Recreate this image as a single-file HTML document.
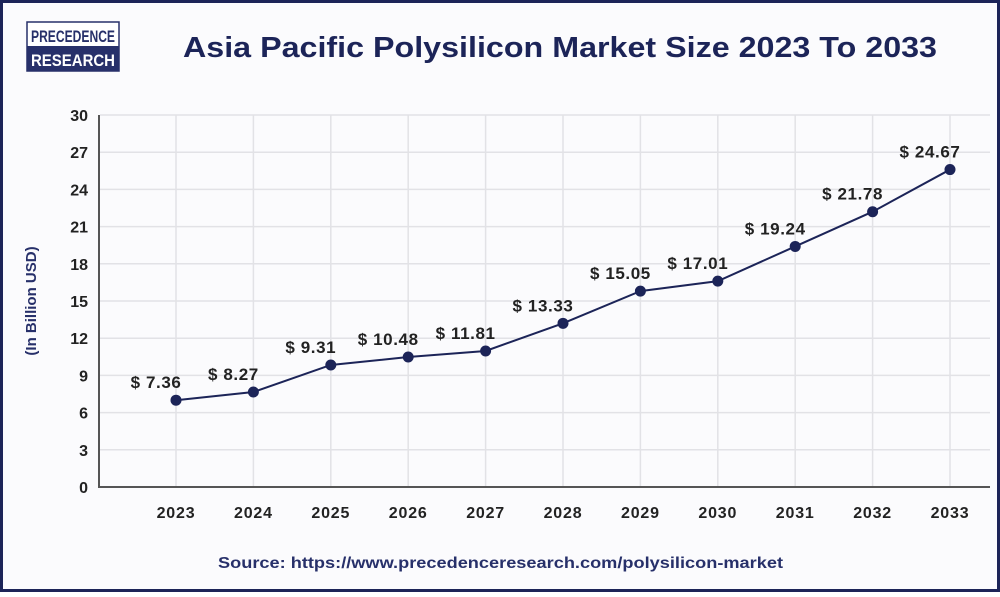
<!DOCTYPE html>
<html><head><meta charset="utf-8"><style>
html,body{margin:0;padding:0;}
body{width:1000px;height:592px;overflow:hidden;background:#fff;font-family:"Liberation Sans",sans-serif;}
</style></head><body>
<svg width="1000" height="592" viewBox="0 0 1000 592">
<rect x="1.5" y="1.5" width="997" height="589" fill="#fbfbfd" stroke="#1c2458" stroke-width="3"/>
<g>
<rect x="27" y="22" width="92" height="49" fill="#fff" stroke="#27306a" stroke-width="1.5"/>
<rect x="27" y="46" width="92" height="25" fill="#27306a"/>
<text x="73" y="42" text-anchor="middle" font-size="17" font-weight="bold" fill="#27306a" textLength="84" lengthAdjust="spacingAndGlyphs">PRECEDENCE</text>
<text x="73" y="66" text-anchor="middle" font-size="17" font-weight="bold" fill="#fff" textLength="84" lengthAdjust="spacingAndGlyphs">RESEARCH</text>
</g>
<text x="183" y="57" font-size="29" font-weight="bold" fill="#1c2458" textLength="754" lengthAdjust="spacingAndGlyphs">Asia Pacific Polysilicon Market Size 2023 To 2033</text>
<text transform="translate(36,301) rotate(-90)" text-anchor="middle" font-size="15" font-weight="bold" fill="#27306a">(In Billion USD)</text>
<g id="grid"></g><g id="marks"></g>
<text x="218" y="568" font-size="16" font-weight="bold" fill="#27306a" textLength="565" lengthAdjust="spacingAndGlyphs">Source: https://www.precedenceresearch.com/polysilicon-market</text>
</svg>
<script>
const years=["2023","2024","2025","2026","2027","2028","2029","2030","2031","2032","2033"];
const values=[7.0,7.66,9.84,10.48,10.97,13.2,15.8,16.6,19.4,22.2,25.6];
const valueLabels=["$ 7.36","$ 8.27","$ 9.31","$ 10.48","$ 11.81","$ 13.33","$ 15.05","$ 17.01","$ 19.24","$ 21.78","$ 24.67"];
const yTicks=[0,3,6,9,12,15,18,21,24,27,30];
const NS="http://www.w3.org/2000/svg";
const x0=176,dx=77.4,yb=487,yt=115,yMax=30;
const xs=i=>x0+i*dx, ys=v=>yb-(v/yMax)*(yb-yt);
function mk(t,a,p){const e=document.createElementNS(NS,t);for(const k in a)e.setAttribute(k,a[k]);p.appendChild(e);return e;}
const g=document.getElementById('grid'),m=document.getElementById('marks');
yTicks.forEach(v=>{
 const l=mk('line',{x1:100,x2:990,y1:ys(v),y2:ys(v),stroke:'#e2e2e6','stroke-width':1.5},g);
 
 
 const t=mk('text',{x:88,y:ys(v)+6,'text-anchor':'end','font-size':16,'font-weight':'bold',fill:'#222'},g);
 t.textContent=v;
 
 
});
years.forEach((y,i)=>{
 const l=mk('line',{x1:xs(i),x2:xs(i),y1:yt,y2:yb,stroke:'#e2e2e6','stroke-width':1.5},g);
 
 
 const t=mk('text',{x:xs(i),y:518,'text-anchor':'middle','font-size':16,'font-weight':'bold',fill:'#222','letter-spacing':0.8},g);
 t.textContent=y;
 
 
});
const ax=mk('path',{d:`M99 ${yt} V${yb} H990`,fill:'none',stroke:'#555','stroke-width':2},g);


const ln=mk('polyline',{points:values.map((v,i)=>xs(i)+','+ys(v)).join(' '),fill:'none',stroke:'#1c2458','stroke-width':2},m);


values.forEach((v,i)=>{
 const c=mk('circle',{cx:xs(i),cy:ys(v),r:5.5,fill:'#1c2458'},m);
 
 
 const t=mk('text',{x:xs(i)-20,y:ys(v)-12,'text-anchor':'middle','font-size':17,'font-weight':'bold',fill:'#222','letter-spacing':0.6},m);
 t.textContent=valueLabels[i];
 
 
});
</script>
</body></html>
